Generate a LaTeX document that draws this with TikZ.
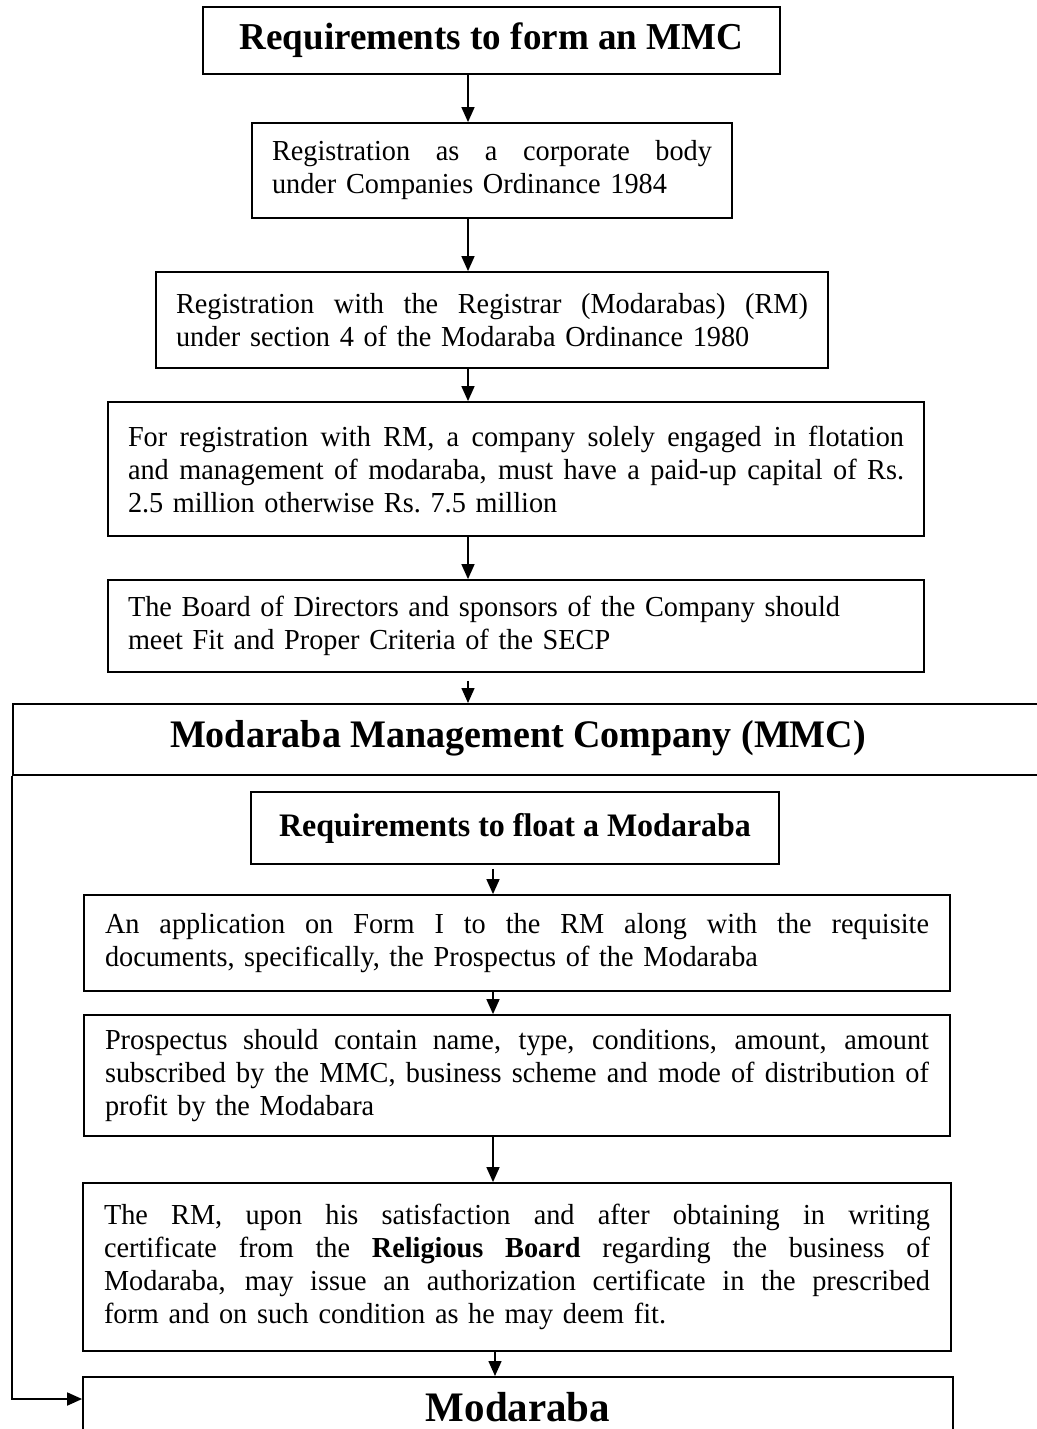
\documentclass[tikz,border=0pt]{standalone}
\usepackage{fontspec}
\setmainfont[FakeStretch=0.975]{Liberation Serif}
\usetikzlibrary{arrows.meta,calc}
\newcommand{\bodyfont}{\fontsize{29}{33}\selectfont}
\newcommand{\jline}[2]{\makebox[#1][s]{\spaceskip=0pt\xspaceskip=0pt #2}}
\begin{document}
\begin{tikzpicture}[x=1pt,y=-1pt,
  box/.style={draw, line width=1.8pt, rectangle, inner sep=0pt, align=left, font=\bodyfont},
  head/.style={draw, line width=1.8pt, rectangle, inner sep=0pt, align=center},
  arr/.style={line width=1.5pt, -{Triangle[length=15pt,width=13pt]}}]
\useasboundingbox (0,0) rectangle (1036,1429);
\fill[white] (0,0) rectangle (1036,1429);

% upper chain
\node[head, minimum width=577pt, minimum height=67pt, font=\fontsize{38}{40}\selectfont\bfseries] (b1) at (491.5,40.5) {Requirements to form an MMC};
\node[box, minimum width=480pt, minimum height=95pt, text width=440pt] (b2) at (492,170.5)
 {\jline{440pt}{Registration as a corporate body}\\under Companies Ordinance 1984};
\node[box, minimum width=672pt, minimum height=96pt, text width=632pt] (b3) at (492,320)
 {\jline{632pt}{Registration with the Registrar (Modarabas) (RM)}\\under section 4 of the Modaraba Ordinance 1980};
\node[box, minimum width=816pt, minimum height=134pt, text width=776pt] (b4) at (516,469)
 {\jline{776pt}{For registration with RM, a company solely engaged in flotation}\\
  \jline{776pt}{and management of modaraba, must have a paid-up capital of Rs.}\\
  2.5 million otherwise Rs.\ 7.5 million};
\node[box, minimum width=816pt, minimum height=92pt, text width=776pt] (b5) at (516,626)
 {The Board of Directors and sponsors of the Company should\\meet Fit and Proper Criteria of the SECP};

% MMC
\node[draw, line width=1.8pt, rectangle, inner sep=0pt, minimum width=1040pt, minimum height=71pt, anchor=north west] (mmc) at (12,703) {};
\node[font=\fontsize{39}{42}\selectfont\bfseries, inner sep=0pt] (mmct) at (518,738.5) {Modaraba Management Company (MMC)};

% lower chain
\node[head, minimum width=528pt, minimum height=72pt, font=\fontsize{32.8}{36}\selectfont\bfseries] (f1) at (515,828) {Requirements to float a Modaraba};
\node[box, minimum width=866pt, minimum height=96pt, text width=824pt] (f2) at (517,943)
 {\jline{824pt}{An application on Form I to the RM along with the requisite}\\documents, specifically, the Prospectus of the Modaraba};
\node[box, minimum width=866pt, minimum height=121pt, text width=824pt] (f3) at (517,1075.5)
 {\jline{824pt}{Prospectus should contain name, type, conditions, amount, amount}\\
  \jline{824pt}{subscribed by the MMC, business scheme and mode of distribution of}\\
  profit by the Modabara};
\node[box, minimum width=868pt, minimum height=168pt, text width=826pt] (f4) at (517,1267)
 {\jline{826pt}{The RM, upon his satisfaction and after obtaining in writing}\\
  \jline{826pt}{certificate from the \textbf{Religious Board} regarding the business of}\\
  \jline{826pt}{Modaraba, may issue an authorization certificate in the prescribed}\\
  form and on such condition as he may deem fit.};
\node[draw, line width=1.8pt, rectangle, inner sep=0pt, minimum width=870pt, minimum height=80pt, anchor=north] (mod) at (518,1376) {};
\node[font=\fontsize{42}{44}\selectfont\bfseries, inner sep=0pt, anchor=base] (modt) at (518,1421) {Modaraba};

% connectors
\coordinate (ax1) at (468,0);
\coordinate (ax2) at (493,0);
\coordinate (ax3) at (495,0);
\draw[arr] (b1.south -| ax1) -- (b2.north -| ax1);
\draw[arr] (b2.south -| ax1) -- (b3.north -| ax1);
\draw[arr] (b3.south -| ax1) -- (b4.north -| ax1);
\draw[arr] (b4.south -| ax1) -- (b5.north -| ax1);
\draw[arr] ($(b5.south -| ax1)+(0,8)$) -- (mmc.north -| ax1);
\draw[arr] ($(f1.south -| ax2)+(0,4)$) -- (f2.north -| ax2);
\draw[arr] (f2.south -| ax2) -- (f3.north -| ax2);
\draw[arr] (f3.south -| ax2) -- (f4.north -| ax2);
\draw[arr] (f4.south -| ax3) -- (mod.north -| ax3);
\draw[arr, line width=1.8pt] (mmc.south west) |- ($(mod.north west)+(0,23)$);
\end{tikzpicture}
\end{document}
